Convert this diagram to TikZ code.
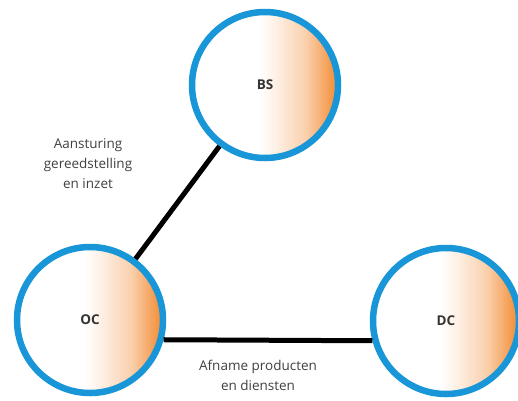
\documentclass[tikz,border=0pt]{standalone}
\usepackage{fontspec}
\setmainfont{Open Sans}
\definecolor{ringblue}{RGB}{25,150,215}
\definecolor{huborange}{RGB}{244,150,70}
% white on the left half, fading to orange at the right rim
\pgfdeclarehorizontalshading{hubfade}{100bp}{%
  color(0bp)=(white); color(48bp)=(white);
  color(54bp)=(white!85!huborange); color(64bp)=(white!55!huborange);
  color(73bp)=(huborange); color(100bp)=(huborange)}
\begin{document}
\begin{tikzpicture}[x=1pt,y=-1pt,
  hub/.style={circle, minimum size=146pt, inner sep=0pt,
    draw=ringblue, line width=6.5pt, shading=hubfade,
    font=\bfseries\fontsize{13.5}{16}\selectfont, text=black!80},
  link/.style={line width=5pt, black},
  note/.style={align=center, font=\fontsize{13.5}{20}\selectfont, text=black!75}]
\useasboundingbox (0,0) rectangle (518,400);
\node[hub] (bs) at (265,85) {BS};
\node[hub] (oc) at (90,320) {OC};
\node[hub] (dc) at (446,321) {DC};
\draw[link] (oc) -- (bs);
\draw[link] (oc.-15) -- (dc.195);
\node[note] (lab1) at (88,164) {Aansturing\\gereedstelling\\en inzet};
\node[note] (lab2) at (258,375) {Afname producten\\en diensten};
\end{tikzpicture}
\end{document}
